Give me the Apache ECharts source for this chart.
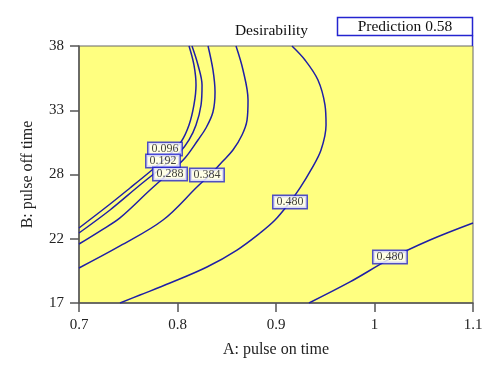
<!DOCTYPE html>
<html><head><meta charset="utf-8">
<script src="https://cdn.jsdelivr.net/npm/echarts@6/dist/echarts.min.js"></script>
<style>html,body{margin:0;padding:0;background:#fff}#c{width:500px;height:378px}</style>
</head><body><div id="c"></div>
<script>
// Contour paths, [A: pulse on time, B: pulse off time]
const contour096 = [[0.8117,38.0],[0.8167,36.45],[0.8188,34.81],[0.8167,33.18],[0.8117,31.54],[0.8036,30.16],[0.7904,29.01],[0.7741,27.87],[0.7518,26.40],[0.7264,24.76],[0.7,23.13]];
const contour192 = [[0.8147,38.0],[0.8208,36.45],[0.8249,34.81],[0.8239,33.18],[0.8188,31.54],[0.8117,30.32],[0.8025,29.34],[0.7873,28.28],[0.7619,26.64],[0.7315,24.60],[0.7,22.72]];
const contour288 = [[0.8310,38.0],[0.8360,36.04],[0.8381,34.24],[0.8360,32.61],[0.8289,31.30],[0.8208,30.32],[0.8076,28.85],[0.7924,27.70],[0.7721,26.23],[0.7416,23.95],[0.7213,22.88],[0.7,21.82]];
const contour384 = [[0.8594,38.0],[0.8665,36.04],[0.8716,33.59],[0.8706,31.95],[0.8655,30.73],[0.8563,29.50],[0.8452,28.52],[0.8330,27.46],[0.8208,26.56],[0.7853,23.78],[0.7416,21.66],[0.7,19.86]];
const contour480a = [[0.9162,38.0],[0.9294,36.86],[0.9426,35.22],[0.9497,33.18],[0.9508,31.54],[0.9457,29.50],[0.9355,27.87],[0.9244,26.40],[0.9142,25.25],[0.8990,23.78],[0.8838,22.72],[0.8604,21.33],[0.8299,19.94],[0.7924,18.63],[0.7619,17.65],[0.7416,17.0]];
const contour480b = [[0.9335,17.0],[0.9751,18.72],[1.0157,20.60],[1.0563,22.15],[1.1,23.54]];

const contourLabels = ['0.096','0.192','0.288','0.384','0.480','0.480'];
const contourLabelX = [0.7873,0.7853,0.7924,0.8299,0.9142,1.0157];
const contourLabelY = [29.58,28.60,27.54,27.46,25.25,20.76];

const xTickValues = [0.7,0.8,0.9,1.0,1.1];
const xTickLabels = ['0.7','0.8','0.9','1','1.1'];
const yTickValues = [17,22.25,27.5,32.75,38];
const yTickLabels = ['17','22','28','33','38'];

const titleText = 'Desirability';
const predictionText = 'Prediction 0.58';
const xName = 'A: pulse on time';
const yName = 'B: pulse off time';

const FONT = '"Liberation Serif", "DejaVu Serif", serif';
const LINE = '#1f1fa6';
const BOX = '#2424d0';

const chart = echarts.init(document.getElementById('c'), null, {renderer:'canvas'});

const paths = [contour096, contour192, contour288, contour384, contour480a, contour480b];
const series = paths.map(p => ({
  type:'line', data:p, smooth:0.35, symbol:'none', z:3,
  lineStyle:{color:LINE, width:1.5}, silent:true, animation:false
}));
series.push({
  type:'scatter', z:10, symbolSize:0, animation:false,
  data: contourLabels.map((t,i)=>({value:[contourLabelX[i],contourLabelY[i]], name:t})),
  label:{show:true, position:'inside', formatter: p=>p.name,
    fontFamily:FONT, fontSize:12, color:'#111',
    backgroundColor:'#fff', borderColor:BOX, borderWidth:1.5, padding:[0,3,0,3]}
});

function labelMap(vals, labels){ return v => { for(let i=0;i<vals.length;i++){ if(Math.abs(v-vals[i])<1e-6) return labels[i]; } return ''; }; }

chart.setOption({
  animation:false,
  grid:{left:79, right:27, top:46, bottom:75, show:true, backgroundColor:'#ffff80', borderColor:'#666', borderWidth:1},
  xAxis:{type:'value', min:0.7, max:1.1, interval:0.1,
    name:xName, nameLocation:'middle', nameGap:39,
    nameTextStyle:{fontFamily:FONT, fontSize:16, color:'#222'},
    axisLine:{show:true, lineStyle:{color:'#555', width:1.5}},
    axisTick:{show:true, length:9, customValues:xTickValues, lineStyle:{color:'#555', width:1.5}},
    axisLabel:{customValues:xTickValues, formatter:labelMap(xTickValues,xTickLabels), margin:15, fontFamily:FONT, fontSize:15, color:'#222'},
    splitLine:{show:false}},
  yAxis:{type:'value', min:17, max:38,
    name:yName, nameLocation:'middle', nameGap:43,
    nameTextStyle:{fontFamily:FONT, fontSize:16, color:'#222'},
    axisLine:{show:true, lineStyle:{color:'#555', width:1.5}},
    axisTick:{show:true, length:9, customValues:yTickValues, lineStyle:{color:'#555', width:1.5}},
    axisLabel:{customValues:yTickValues, formatter:labelMap(yTickValues,yTickLabels), margin:15, fontFamily:FONT, fontSize:15, color:'#222'},
    splitLine:{show:false}},
  graphic:[
    {type:'text', x:271.5, y:31, style:{text:titleText, font:'15.5px '+FONT, fill:'#111', align:'center', verticalAlign:'middle'}},
    {type:'rect', shape:{x:337.5, y:17.5, width:135, height:18}, style:{fill:'#fff', stroke:BOX, lineWidth:1.5}},
    {type:'line', shape:{x1:472.5, y1:35.5, x2:472.5, y2:46}, style:{stroke:BOX, lineWidth:1.5}},
    {type:'text', x:405, y:26.5, style:{text:predictionText, font:'15.5px '+FONT, fill:'#111', align:'center', verticalAlign:'middle'}}
  ],
  series:series
});
</script></body></html>
